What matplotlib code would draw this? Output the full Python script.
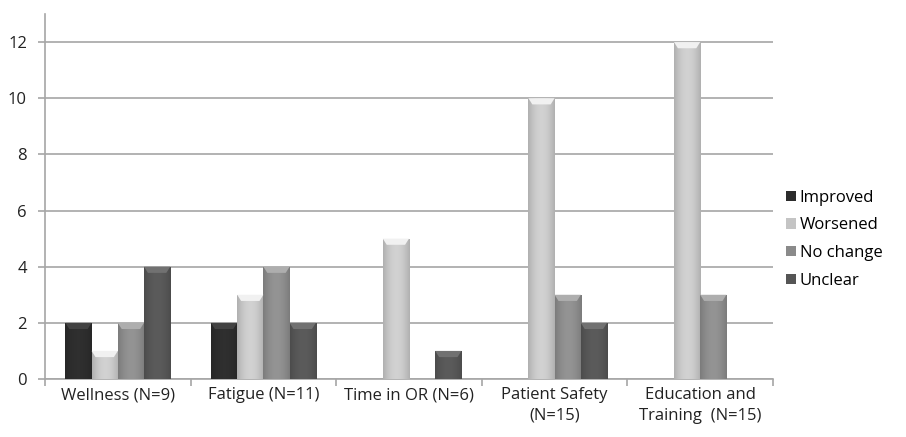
import numpy as np
import matplotlib
matplotlib.use("Agg")
from matplotlib import pyplot as plt
from matplotlib.patches import Patch

categories = ["Wellness (N=9)", "Fatigue (N=11)", "Time in OR (N=6)",
              "Patient Safety\n(N=15)", "Education and\nTraining  (N=15)"]
series = ["Improved", "Worsened", "No change", "Unclear"]
improved = [2, 2, 0, 0, 0]
worsened = [1, 3, 5, 10, 12]
no_change = [2, 4, 0, 3, 3]
unclear = [4, 2, 1, 2, 0]
values = [improved, worsened, no_change, unclear]
colors = ["#2c2c2c", "#c4c4c4", "#8a8a8a", "#555555"]

plt.rcParams['font.family'] = ['Open Sans', 'DejaVu Sans']

fig = plt.figure(figsize=(9.06, 4.37), dpi=100)
ax = fig.add_axes([45/906, 1 - 379/437, (773-45)/906, (379-14)/437])

x = np.arange(len(categories))
w = 0.18

# horizontal shading for the rounded look
grad = np.linspace(0, 1, 64)
shade = np.sin(np.pi * (0.1 + 0.8 * grad))

for i, (vals, col) in enumerate(zip(values, colors)):
    pos = x + (i - 1.5) * w
    bars = ax.bar(pos, vals, w, color=col, edgecolor='none', zorder=3)
    rgb = np.array(matplotlib.colors.to_rgb(col))
    for b, v in zip(bars, vals):
        if v == 0:
            continue
        img = np.clip(rgb[None, :] * (0.82 + 0.25 * shade[:, None]), 0, 1)[None, :, :]
        x0 = b.get_x()
        im = ax.imshow(img, extent=[x0, x0 + w, 0, v], aspect='auto',
                       zorder=4, interpolation='bilinear')
        im.set_clip_path(b)
        # bevelled top
        cap = min(0.22, v * 0.3)
        top = np.clip(rgb * 1.15 + 0.06, 0, 1)
        ax.fill([x0, x0 + w, x0 + w * 0.85, x0 + w * 0.15],
                [v, v, v - cap, v - cap], color=top, zorder=5, lw=0)

ax.set_xlim(-0.5, len(categories) - 0.5)
ax.set_ylim(0, 13)
ax.set_yticks(range(0, 13, 2))
ax.yaxis.grid(True, color='#a6a6a6', lw=1.2, zorder=0)
ax.set_axisbelow(True)
ax.set_xticks(x)
ax.set_xticklabels(categories, fontsize=12, color='#222222', linespacing=1.35)
ax.set_xticks(np.arange(-0.5, len(categories), 1), minor=True)
ax.tick_params(axis='x', which='major', length=0, pad=6)
ax.tick_params(axis='x', which='minor', length=5, color='#a6a6a6', width=1.2)
ax.tick_params(axis='y', length=5, color='#a6a6a6', width=1.2, labelsize=12,
               labelcolor='#222222', pad=8)
for s in ['top', 'right']:
    ax.spines[s].set_visible(False)
for s in ['left', 'bottom']:
    ax.spines[s].set_color('#a6a6a6')
    ax.spines[s].set_linewidth(1.2)

handles = [Patch(facecolor=c, edgecolor='none') for c in colors]
fig.legend(handles, series, loc='upper left', bbox_to_anchor=(779/906, 1 - 183/437),
           frameon=False, fontsize=12, handlelength=0.6, handleheight=0.6,
           handletextpad=0.25, labelspacing=0.7, borderaxespad=0)

fig.savefig("out.png", dpi=100)
